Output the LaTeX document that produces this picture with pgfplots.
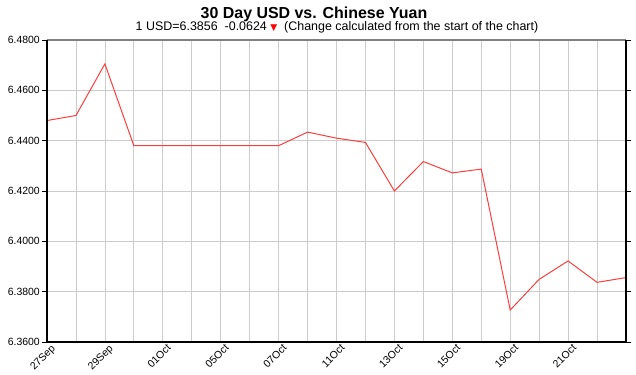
\documentclass[border=0pt]{standalone}
\usepackage{pgfplots}
\pgfplotsset{compat=1.18}
\usepackage{fontspec}
\setmainfont{Liberation Sans}
\newfontfamily\dejavu{DejaVu Sans}
\definecolor{linered}{RGB}{255,60,60}
\definecolor{gridgray}{RGB}{204,204,204}
\begin{document}
\begin{tikzpicture}
\useasboundingbox (0,0) rectangle (636bp,375bp);
\node[font=\fontsize{16}{18}\selectfont\bfseries, anchor=base] at (314bp,356bp) {30 Day USD vs. Chinese Yuan};
\node[font=\fontsize{12.5}{14}\selectfont, anchor=base] at (337bp,344bp) {1 USD=6.3856\ \ -0.0624 {\dejavu\fontsize{9}{10}\selectfont\textcolor{red}{▼}}\ \ (Change calculated from the start of the chart)};
\begin{axis}[
  at={(47bp,33bp)}, anchor=south west,
  scale only axis, width=579bp, height=302bp,
  xmin=0, xmax=20, ymin=6.36, ymax=6.48,
  xtick={0,2,...,18},
  xticklabels={27Sep,29Sep,01Oct,05Oct,07Oct,11Oct,13Oct,15Oct,19Oct,21Oct},
  minor xtick={1,3,...,19},
  ytick={6.36,6.38,6.40,6.42,6.44,6.46,6.48},
  yticklabel style={/pgf/number format/fixed, /pgf/number format/fixed zerofill, /pgf/number format/precision=4, inner sep=1bp, xshift=-1bp},
  /pgf/number format/assume math mode=true,
  ticklabel style={font=\fontsize{10.5}{12}\selectfont},
  xticklabel style={rotate=45, anchor=north east, xshift=6bp, yshift=1bp, inner sep=1bp},
  xmajorgrids, xminorgrids, ymajorgrids,
  major grid style={gridgray, line width=0.8pt},
  minor grid style={gridgray, line width=0.8pt},
  x tick style={draw=none},
  minor x tick style={draw=none},
  y tick style={black, line width=0.8pt},
  tick align=outside,
  major tick length=5bp,
  axis line style={draw=none},
  clip=false,
]
\addplot[linered, line width=1pt] coordinates {
(0,6.4480) (1,6.4500) (2,6.4705) (3,6.4380) (4,6.4380) (5,6.4380) (6,6.4380)
(7,6.4380) (8,6.4380) (9,6.4434) (10,6.4410) (11,6.4393) (12,6.4200)
(13,6.4317) (14,6.4272) (15,6.4287) (16,6.3727) (17,6.3849) (18,6.3922)
(19,6.3837) (20,6.3856)
};
\draw[gray, line width=1.6pt] (rel axis cs:0,1) -- (rel axis cs:1,1);
\draw[black, line width=1.2pt] (rel axis cs:0,0) -- (rel axis cs:0,1);
\draw[black, line width=1.2pt] (rel axis cs:0,0) -- (rel axis cs:1,0);
\draw[black, line width=1.2pt] (rel axis cs:1,0) -- (rel axis cs:1,1);
\end{axis}
\end{tikzpicture}
\end{document}
